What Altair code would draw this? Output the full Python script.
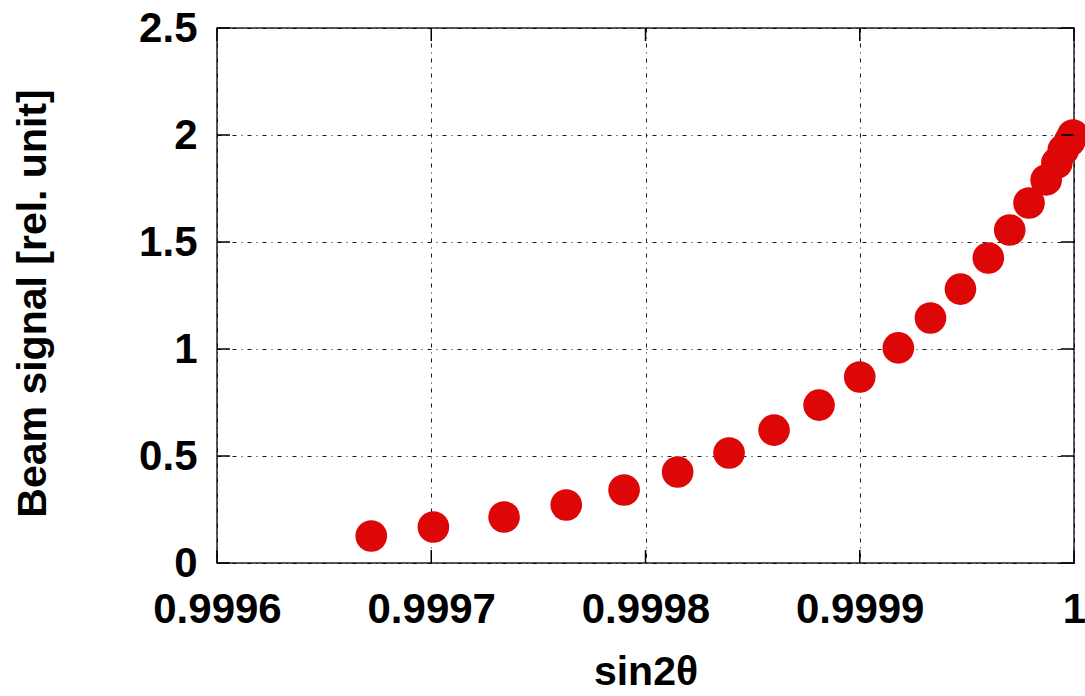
import altair as alt
import pandas as pd

# Measured beam signal versus sin(2θ)
sin2theta = [0.999672, 0.999701, 0.999734, 0.999763, 0.999790, 0.999815,
             0.999839, 0.999860, 0.999881, 0.999900, 0.999918, 0.999933,
             0.999947, 0.999960, 0.999970, 0.999979, 0.999987, 0.999992,
             0.999995, 0.999998, 0.9999995]
signal = [0.126, 0.168, 0.215, 0.271, 0.341, 0.425, 0.514, 0.621, 0.738,
          0.869, 1.005, 1.145, 1.280, 1.425, 1.556, 1.682, 1.790, 1.869,
          1.930, 1.972, 2.000]

x_ticks = [0.9996, 0.9997, 0.9998, 0.9999, 1.0]
y_ticks = [0, 0.5, 1, 1.5, 2, 2.5]

W, H = 857, 535
TICK = 13
FONT = "Liberation Sans"

df = pd.DataFrame({"s": sin2theta, "b": signal})
xt = pd.DataFrame({"s": x_ticks})
yt = pd.DataFrame({"b": y_ticks})

xscale = alt.Scale(domain=[0.9996, 1.0], nice=False, zero=False)
yscale = alt.Scale(domain=[0, 2.5], nice=False, zero=False)

grid_style = dict(grid=True, gridColor="#000000", gridDash=[4, 5, 1, 5],
                  gridWidth=1, gridOpacity=0.9, ticks=False, domain=False,
                  labelFont=FONT, labelFontSize=42, labelFontWeight="bold",
                  labelColor="#000000", titleFont=FONT, titleFontSize=41,
                  titleFontWeight="bold", titleColor="#000000",
                  labelFlush=False, labelOverlap=False)

x_axis = alt.Axis(title="sin2θ", values=x_ticks,
                  labelExpr="datum.value >= 1 ? '1' : format(datum.value, '.4f')",
                  labelPadding=26, titleY=121, titleBaseline="alphabetic",
                  **grid_style)
y_axis = alt.Axis(title="Beam signal [rel. unit]", values=y_ticks, format="~g",
                  labelPadding=20, titleX=-184, titleY=275, titleAngle=270,
                  titleAlign="center", titleBaseline="middle", **grid_style)

X = alt.X("s:Q", scale=xscale, axis=x_axis)
Y = alt.Y("b:Q", scale=yscale, axis=y_axis)

points = alt.Chart(df).mark_circle(size=1000, color="#dd0707", opacity=1).encode(
    x=X, y=Y)

# Inward tick marks on all four sides of the frame
rule = dict(color="#000000", strokeWidth=1.5)
bottom_ticks = alt.Chart(xt).mark_rule(**rule).encode(
    x=X, y=alt.value(H), y2=alt.value(H - TICK))
top_ticks = alt.Chart(xt).mark_rule(**rule).encode(
    x=X, y=alt.value(0), y2=alt.value(TICK))
left_ticks = alt.Chart(yt).mark_rule(**rule).encode(
    y=Y, x=alt.value(0), x2=alt.value(TICK))
right_ticks = alt.Chart(yt).mark_rule(**rule).encode(
    y=Y, x=alt.value(W), x2=alt.value(W - TICK))

chart = alt.layer(
    points, bottom_ticks, top_ticks, left_ticks, right_ticks
).properties(
    width=W, height=H,
    autosize=alt.AutoSizeParams(type="none"),
    padding={"left": 217, "top": 28, "right": 11, "bottom": 133},
    background="#ffffff",
).configure_view(
    stroke="#222222", strokeWidth=1.5
)

chart.save("out.html", embed_options={"renderer": "svg", "actions": False})
